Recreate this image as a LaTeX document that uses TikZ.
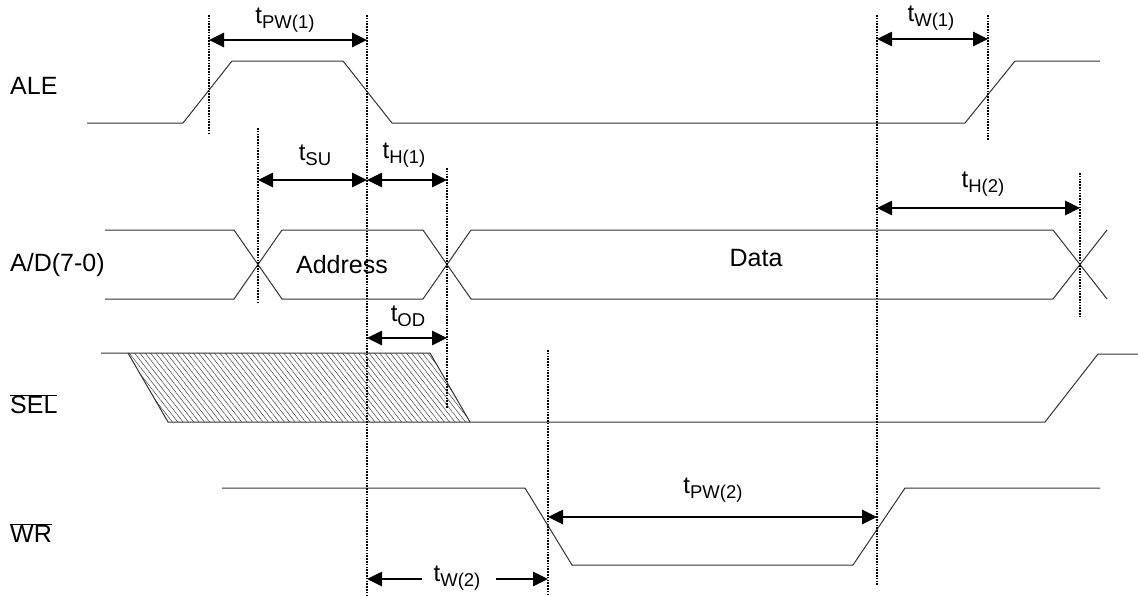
\documentclass[tikz,border=0pt]{standalone}
\usepackage{fontspec}
\setmainfont{Liberation Sans}
\usetikzlibrary{arrows.meta,patterns.meta}
\newcommand\tsub[1]{t\raisebox{-5pt}{\fontsize{18.5}{18.5}\selectfont #1}}
\begin{document}
\begin{tikzpicture}[x=1pt,y=-1pt,
  sig/.style={line width=1pt, black!80},
  guide/.style={line width=1.2pt, dash pattern=on 1.6pt off 1.2pt},
  dim/.style={line width=2.6pt, {Triangle[length=15pt,width=14pt]}-{Triangle[length=15pt,width=14pt]}},
  half/.style={line width=2.6pt, -{Triangle[length=15pt,width=14pt]}},
  lbl/.style={font=\fontsize{25}{29}\selectfont, inner sep=0pt},
  tl/.style={font=\fontsize{24}{27}\selectfont, inner sep=0pt}]
\useasboundingbox (0,0) rectangle (1138,597);

% signal names
\node[lbl, anchor=west] (ale) at (10,86) {ALE};
\node[lbl, anchor=west] (ad) at (10,265) {A/D(7-0)};
\node[lbl, anchor=west] (sel) at (10,404) {$\overline{\mbox{SEL}}$};
\node[lbl, anchor=west] (wr) at (10,533) {$\overline{\mbox{WR}}$};

% ALE
\draw[sig] (87,123) -- (183,123) -- (232,61) -- (343,61) -- (392,123) -- (965,123) -- (1015,61) -- (1100,61);

% A/D bus
\draw[sig] (105,230) -- (234,230) -- (282,299) -- (423,299) -- (471,230) -- (1053,230) -- (1107,299);
\draw[sig] (105,299) -- (234,299) -- (282,230) -- (423,230) -- (471,299) -- (1053,299) -- (1107,230);
\node[lbl] (addr) at (342,265) {Address};
\node[lbl] (data) at (756,258) {Data};

% SEL
\fill[pattern={Lines[angle=-52,distance=4.2pt,line width=0.45pt]}, pattern color=black!80]
  (128,353) -- (430,353) -- (470,422) -- (168,422) -- cycle;
\draw[sig] (101,353) -- (430,353) -- (470,422);
\draw[sig] (128,353) -- (168,422) -- (1045,422) -- (1098,354) -- (1138,354);

% WR
\draw[sig] (222,488) -- (525,488) -- (572,565) -- (853,565) -- (905,488) -- (1100,488);

% guide lines
\coordinate (g1t) at (209,15);  \coordinate (g1b) at (209,135);
\coordinate (g2t) at (367,15);  \coordinate (g2b) at (367,595);
\coordinate (g3t) at (877,15);  \coordinate (g3b) at (877,585);
\coordinate (g4t) at (988,15);  \coordinate (g4b) at (988,140);
\coordinate (g5t) at (258,128); \coordinate (g5b) at (258,303);
\coordinate (g6t) at (447,168); \coordinate (g6b) at (447,408);
\coordinate (g7t) at (1080,173);\coordinate (g7b) at (1080,318);
\coordinate (g8t) at (548,350); \coordinate (g8b) at (548,595);
\foreach \g in {1,...,8} \draw[guide] (g\g t) -- (g\g b);

% timing arrows
\draw[dim] (209,40) -- (367,40);
\node[tl] (tpw1) at (285,20) {\tsub{PW(1)}};
\draw[dim] (877,39) -- (988,39);
\node[tl] (tw1) at (931,18) {\tsub{W(1)}};
\draw[dim] (258,180) -- (367,180);
\node[tl] (tsu) at (315,155) {\tsub{SU}};
\draw[dim] (367,180) -- (447,180);
\node[tl] (th1) at (404,155) {\tsub{H(1)}};
\draw[dim] (877,208) -- (1080,208);
\node[tl] (th2) at (983,184) {\tsub{H(2)}};
\draw[dim] (367,338) -- (447,338);
\node[tl] (tod) at (408,316) {\tsub{OD}};
\draw[dim] (548,517) -- (877,517);
\node[tl] (tpw2) at (713,490) {\tsub{PW(2)}};
\node[tl] (tw2) at (457,578) {\tsub{W(2)}};
\coordinate (tw2l) at (367,579);
\coordinate (tw2r) at (548,579);
\draw[half] (422,579) -- (tw2l);
\draw[half] (496,579) -- (tw2r);
\end{tikzpicture}
\end{document}
